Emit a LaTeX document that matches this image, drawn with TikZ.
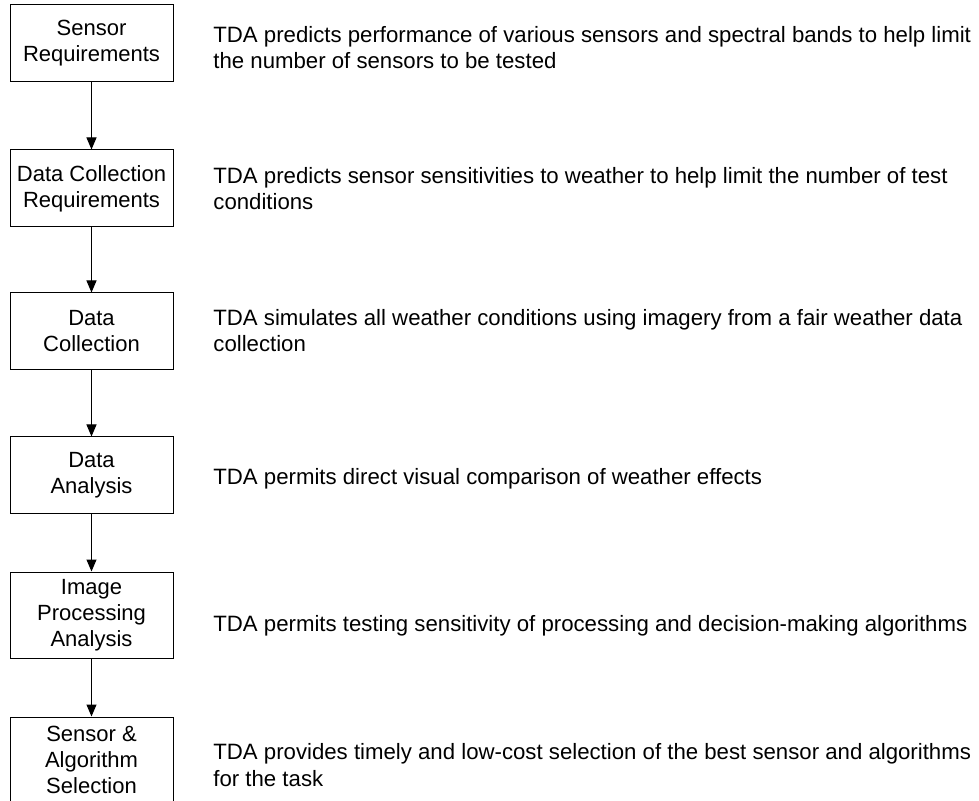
\documentclass[tikz,border=0pt]{standalone}
\usepackage{fontspec}
\setmainfont{Liberation Sans}
\usetikzlibrary{arrows.meta}

\begin{document}
\begin{tikzpicture}[x=0.5pt,y=-0.5pt,
    stage/.style={draw,line width=0.5pt,minimum width=81.5pt,minimum height=38.5pt,
        inner sep=0pt,align=center,font=\fontsize{11}{13}\selectfont},
    note/.style={anchor=base west,inner sep=0pt,align=left,font=\fontsize{11.1}{13.4}\selectfont},
    flow/.style={-{Triangle[width=5pt,length=6pt]},line width=0.5pt}]
    \useasboundingbox (0,0) rectangle (979,801);

    % process stages
    \node[stage] (sreq) at (91.5,43.5) {Sensor\\Requirements};
    \node[stage] (dcreq) at (91.5,188.5) {Data Collection\\Requirements};
    \node[stage] (dcol) at (91.5,331.5) {Data\\Collection};
    \node[stage] (dana) at (91.5,475.5) {Data\\Analysis};
    \node[stage,minimum height=43pt] (ipa) at (91.5,615) {Image\\Processing\\Analysis};
    \node[stage,minimum height=43pt] (sas) at (91.5,760) {Sensor \&\\Algorithm\\Selection};

    \draw[flow] (sreq) -- (dcreq);
    \draw[flow] (dcreq) -- (dcol);
    \draw[flow] (dcol) -- (dana);
    \draw[flow] (dana) -- (ipa);
    \draw[flow] (ipa) -- (sas);

    % what TDA does at each stage (placed at the baseline of the last line)
    \node[note] (sreqtxt) at (213,69) {TDA predicts performance of various sensors and spectral bands to help limit\\the number of sensors to be tested};
    \node[note] (dcreqtxt) at (213,210) {TDA predicts sensor sensitivities to weather to help limit the number of test\\conditions};
    \node[note] (dcoltxt) at (213,352) {TDA simulates all weather conditions using imagery from a fair weather data\\collection};
    \node[note] (danatxt) at (213,485) {TDA permits direct visual comparison of weather effects};
    \node[note] (ipatxt) at (213,631) {TDA permits testing sensitivity of processing and decision-making algorithms};
    \node[note] (sastxt) at (213,786) {TDA provides timely and low-cost selection of the best sensor and algorithms\\for the task};
\end{tikzpicture}
\end{document}
